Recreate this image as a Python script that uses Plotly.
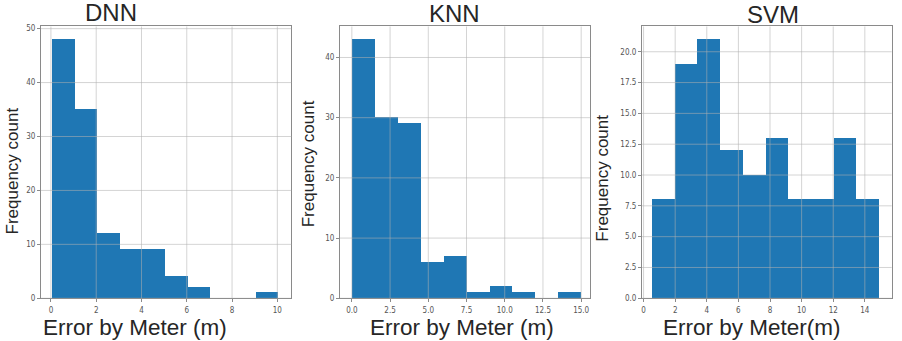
import plotly.graph_objects as go

# ---- data ----
dnn_start, dnn_width = 0.04, 1.0
dnn_counts = [48, 35, 12, 9, 9, 4, 2, 0, 0, 1]
knn_start, knn_width = 0.0, 1.5
knn_counts = [43, 30, 29, 6, 7, 1, 2, 1, 0, 1]
svm_start, svm_width = 0.53, 1.437
svm_counts = [8, 19, 21, 12, 10, 13, 8, 8, 13, 8]

titles = ["DNN", "KNN", "SVM"]
xlabels = ["Error by Meter (m)", "Error by Meter (m)", "Error by Meter(m)"]
ylabel = "Frequency count"

dnn_xticks = [0, 2, 4, 6, 8, 10]
dnn_yticks = [0, 10, 20, 30, 40, 50]
knn_xticks = [0, 2.5, 5, 7.5, 10, 12.5, 15]
knn_yticks = [0, 10, 20, 30, 40]
svm_xticks = [0, 2, 4, 6, 8, 10, 12, 14]
svm_yticks = [0, 2.5, 5, 7.5, 10, 12.5, 15, 17.5, 20]

# ---- figure ----
W, H = 902, 341
BAR = "#1f77b4"
GRID = "rgba(176,176,176,0.55)"
FRAME = "#8a8a8a"
TICKFONT = dict(family="DejaVu Sans Condensed, DejaVu Sans", size=8, color="#555555")
TEXT = "#262626"

panels = [
    dict(start=dnn_start, width=dnn_width, counts=dnn_counts, xt=dnn_xticks, yt=dnn_yticks,
         xr=[-0.44, 10.62], yr=[0, 50.4], dom=[40, 290.7], yfmt="", xfmt=""),
    dict(start=knn_start, width=knn_width, counts=knn_counts, xt=knn_xticks, yt=knn_yticks,
         xr=[-0.78, 15.6], yr=[0, 45.15], dom=[339.3, 590], yfmt="", xfmt=".1f"),
    dict(start=svm_start, width=svm_width, counts=svm_counts, xt=svm_xticks, yt=svm_yticks,
         xr=[-0.1, 15.7], yr=[0, 22.05], dom=[641.7, 891.7], yfmt=".1f", xfmt=""),
]

ydom = [1 - 302.5 / H, 1 - 25 / H]

fig = go.Figure()
layout = dict(width=W, height=H, margin=dict(l=0, r=0, t=0, b=0),
              plot_bgcolor="white", paper_bgcolor="white", showlegend=False,
              bargap=0)
shapes = []

for i, p in enumerate(panels):
    sfx = "" if i == 0 else str(i + 1)
    n = len(p["counts"])
    centers = [p["start"] + p["width"] * (k + 0.5) for k in range(n)]
    fig.add_trace(go.Bar(x=centers, y=p["counts"], width=[p["width"]] * n,
                         marker=dict(color=BAR, line=dict(width=0)),
                         xaxis="x" + sfx, yaxis="y" + sfx, hoverinfo="skip"))
    common = dict(showline=True, mirror=True, linecolor=FRAME, linewidth=1,
                  ticks="outside", ticklen=3, tickcolor=FRAME, tickfont=TICKFONT,
                  showgrid=False, zeroline=False)
    layout["xaxis" + sfx] = dict(domain=[p["dom"][0] / W, p["dom"][1] / W], range=p["xr"],
                                 tickmode="array", tickvals=p["xt"], tickformat=p["xfmt"],
                                 anchor="y" + sfx, ticklabelstandoff=1, **common)
    layout["yaxis" + sfx] = dict(domain=ydom, range=p["yr"], tickmode="array",
                                 tickvals=p["yt"], tickformat=p["yfmt"],
                                 anchor="x" + sfx, **common)
    xref, yref = "x" + sfx, "y" + sfx
    for v in p["xt"]:
        shapes.append(dict(type="line", xref=xref, yref=yref + " domain", x0=v, x1=v, y0=0, y1=1,
                           line=dict(color=GRID, width=1), layer="above"))
    for v in p["yt"]:
        shapes.append(dict(type="line", xref=xref + " domain", yref=yref, x0=0, x1=1, y0=v, y1=v,
                           line=dict(color=GRID, width=1), layer="above"))

layout["shapes"] = shapes

ann = []
title_pos = [(110, 11), (454, 12), (773, 13)]
for t, (x, y) in zip(titles, title_pos):
    ann.append(dict(text=t, x=x / W, y=1 - y / H, xref="paper", yref="paper",
                    xanchor="center", yanchor="middle", showarrow=False,
                    font=dict(family="Liberation Sans, Arial", size=24, color=TEXT)))
xl_pos = [(134, 332), (462, 332), (752, 332)]
for t, (x, y) in zip(xlabels, xl_pos):
    ann.append(dict(text=t, x=x / W, y=1 - y / H, xref="paper", yref="paper",
                    xanchor="center", yanchor="middle", showarrow=False,
                    font=dict(family="Liberation Sans, Arial", size=22.5, color=TEXT)))
yl_pos = [(11, 172), (308, 165), (602, 180)]
for (x, y) in yl_pos:
    ann.append(dict(text=ylabel, x=x / W, y=1 - y / H, xref="paper", yref="paper",
                    xanchor="center", yanchor="middle", showarrow=False, textangle=-90,
                    font=dict(family="Liberation Sans, Arial", size=17, color=TEXT)))
layout["annotations"] = ann

fig.update_layout(**layout)
fig.write_html("out.html")
